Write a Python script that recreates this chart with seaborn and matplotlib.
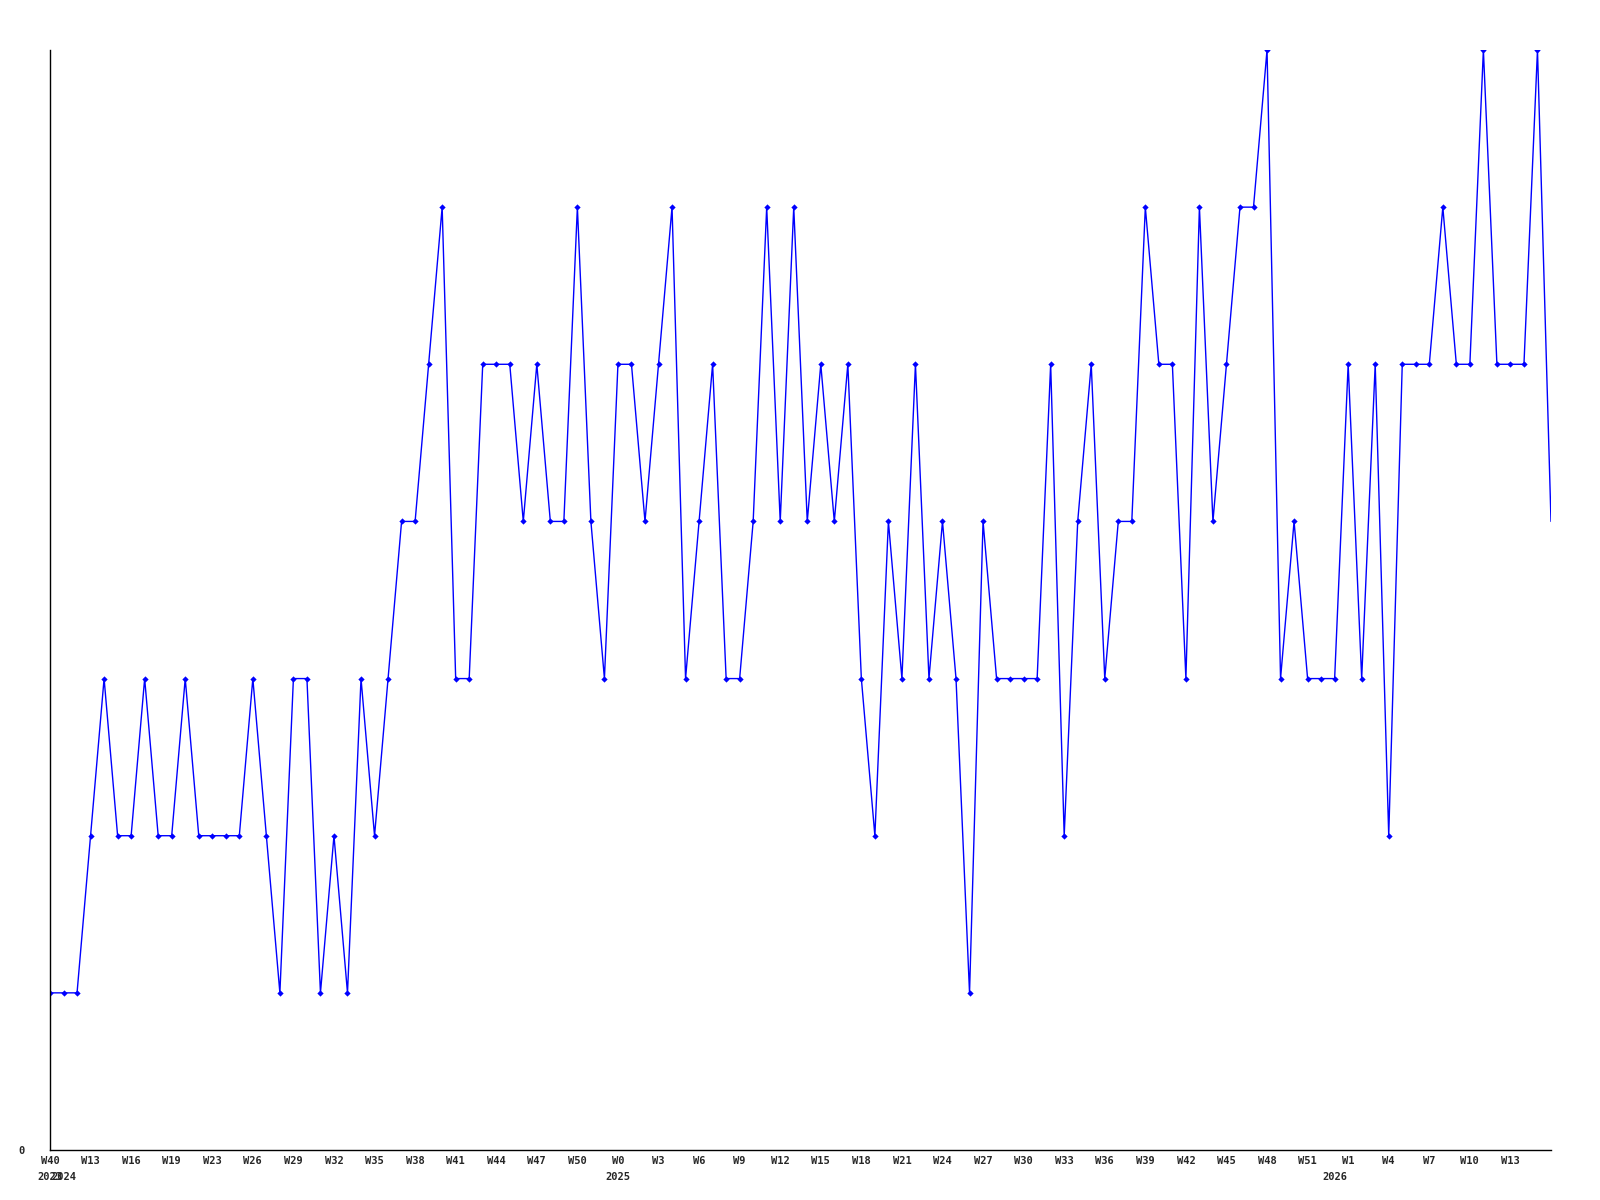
import numpy as np
import matplotlib
matplotlib.use("Agg")
import matplotlib.pyplot as plt
import seaborn as sns

# weekly counts, one value per week shown on the chart
values = [1, 1, 1, 2, 3, 2, 2, 3, 2, 2,
          3, 2, 2, 2, 2, 3, 2, 1, 3, 3,
          1, 2, 1, 3, 2, 3, 4, 4, 5, 6,
          3, 3, 5, 5, 5, 4, 5, 4, 4, 6,
          4, 3, 5, 5, 4, 5, 6, 3, 4, 5,
          3, 3, 4, 6, 4, 6, 4, 5, 4, 5,
          3, 2, 4, 3, 5, 3, 4, 3, 1, 4,
          3, 3, 3, 3, 5, 2, 4, 5, 3, 4,
          4, 6, 5, 5, 3, 6, 4, 5, 6, 6,
          7, 3, 4, 3, 3, 3, 5, 3, 5, 2,
          5, 5, 5, 6, 5, 5, 7, 5, 5, 5,
          7, 4]

# labels shown on every third week
tick_labels = ["W40", "W13", "W16", "W19", "W23", "W26", "W29", "W32", "W35",
               "W38", "W41", "W44", "W47", "W50", "W0", "W3", "W6", "W9",
               "W12", "W15", "W18", "W21", "W24", "W27", "W30", "W33", "W36",
               "W39", "W42", "W45", "W48", "W51", "W1", "W4", "W7", "W10", "W13"]
years = ["2023", "2024", "2025", "2026"]
year_start = [0, 1, 42, 95]   # index of first week of each year

x = np.arange(len(values))

sns.set_style("white")
plt.rcParams["font.family"] = ["DejaVu Sans Mono"]
plt.rcParams["font.weight"] = "bold"

fig = plt.figure(figsize=(16, 12), dpi=100)
ax = fig.add_axes([50 / 1600, 50 / 1200, 1501 / 1600, 1100 / 1200])

sns.lineplot(x=x, y=values, ax=ax, color="#0000ff", linewidth=1.0,
             marker="D", markersize=3.2, markeredgewidth=0,
             markevery=list(range(len(values) - 1)))

ax.set_xlim(0, len(values) - 1)
ax.set_ylim(0, max(values))
ax.set_xlabel("")
ax.set_ylabel("")

ax.set_xticks(x[::3][:len(tick_labels)])
ax.set_xticklabels(tick_labels, fontsize=7.5, fontweight="bold")
ax.set_yticks([0])
ax.set_yticklabels(["0"], fontsize=7.5, fontweight="bold")
ax.tick_params(axis="x", length=0, pad=4)
ax.tick_params(axis="y", length=0, pad=18)

for yr, pos in zip(years, year_start):
    ax.text(pos, -0.02, yr, transform=ax.get_xaxis_transform(),
            ha="center", va="top", fontsize=7.5, fontweight="bold")

for side in ["top", "right"]:
    ax.spines[side].set_visible(False)
for side in ["left", "bottom"]:
    ax.spines[side].set_color("black")
    ax.spines[side].set_linewidth(1.0)

fig.savefig("out.png", dpi=100, facecolor="white")
